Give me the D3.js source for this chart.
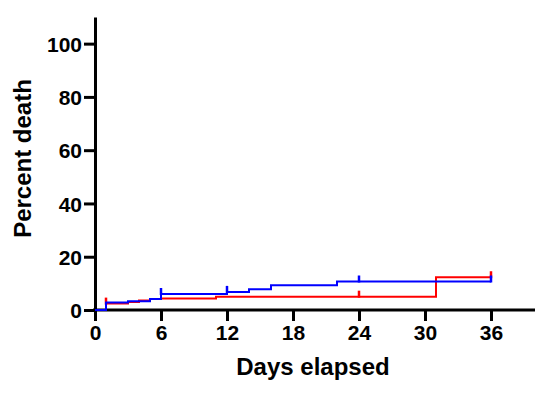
<!DOCTYPE html>
<meta charset="utf-8">
<script src="https://cdn.jsdelivr.net/npm/d3@7"></script>
<style>
  body { margin: 0; background: #fff; }
  text { font-family: "Liberation Sans", Arial, sans-serif; font-weight: bold; }
</style>
<div id="my_dataviz"></div>
<script>

// step points: [day, percent death]
var redSteps = [[0, 0], [1, 2.4], [3, 3.0], [4, 3.6], [5, 4.1], [6, 4.3], [11, 5.0], [31, 12.3], [36, 12.3]];
var blueSteps = [[0, 0], [1, 2.8], [3, 3.3], [5, 4.1], [6, 6.0], [12, 6.8], [14, 7.8], [16, 9.3], [22, 10.7], [36, 10.7]];

// censored marks (days)
var redCensored = [1, 24, 36];
var blueCensored = [6, 12, 24, 36];

var xTicks = [0, 6, 12, 18, 24, 30, 36];
var yTicks = [0, 20, 40, 60, 80, 100];

var margin = {top: 17, right: 19, bottom: 84, left: 95},
    width = 554 - margin.left - margin.right,
    height = 394 - margin.top - margin.bottom;

var svg = d3.select("#my_dataviz")
  .append("svg")
    .attr("width", 554)
    .attr("height", 394)
  .append("g")
    .attr("transform", "translate(" + margin.left + "," + margin.top + ")");

var x = d3.scaleLinear().domain([0, 40]).range([0, width]);
var y = d3.scaleLinear().domain([0, 110]).range([height, 0]);

// x axis
var xAxis = svg.append("g")
  .attr("transform", "translate(0," + height + ")")
  .call(d3.axisBottom(x).tickValues(xTicks).tickSize(11).tickPadding(4).tickSizeOuter(0));

// y axis
var yAxis = svg.append("g")
  .call(d3.axisLeft(y).tickValues(yTicks).tickSize(11).tickPadding(2).tickSizeOuter(0));

[xAxis, yAxis].forEach(function(a) {
  a.select(".domain").attr("stroke", "#000").attr("stroke-width", 3);
  a.selectAll(".tick line").attr("stroke", "#000").attr("stroke-width", 3);
  a.selectAll(".tick text").attr("fill", "#000").style("font-size", "21px");
});
xAxis.select(".domain").attr("d", "M-2,0H" + width);
yAxis.selectAll(".tick text").attr("dy", "0.36em");

// curves
var line = d3.line()
  .x(function(d) { return x(d[0]); })
  .y(function(d) { return y(d[1]); })
  .curve(d3.curveStepAfter);

function lastValue(steps, day) {
  var v = 0;
  steps.forEach(function(d) { if (d[0] <= day) v = d[1]; });
  return v;
}

function drawCurve(steps, censored, color) {
  svg.append("path")
    .datum(steps)
    .attr("fill", "none")
    .attr("stroke", color)
    .attr("stroke-width", 2)
    .attr("d", line);

  svg.selectAll(null)
    .data(censored)
    .enter()
    .append("line")
      .attr("x1", function(d) { return x(d); })
      .attr("x2", function(d) { return x(d); })
      .attr("y1", function(d) { return y(lastValue(steps, d)) + 1; })
      .attr("y2", function(d) { return y(lastValue(steps, d)) - 6; })
      .attr("stroke", color)
      .attr("stroke-width", 2.5);
}

drawCurve(redSteps, redCensored, "#ff0000");
drawCurve(blueSteps, blueCensored, "#0000ff");

// axis titles
svg.append("text")
  .attr("x", width / 2 - 2)
  .attr("y", height + 65)
  .attr("text-anchor", "middle")
  .style("font-size", "24px")
  .text("Days elapsed");

svg.append("text")
  .attr("transform", "translate(-64," + (height / 2 - 5) + ") rotate(-90)")
  .attr("text-anchor", "middle")
  .style("font-size", "24px")
  .text("Percent death");

</script>
